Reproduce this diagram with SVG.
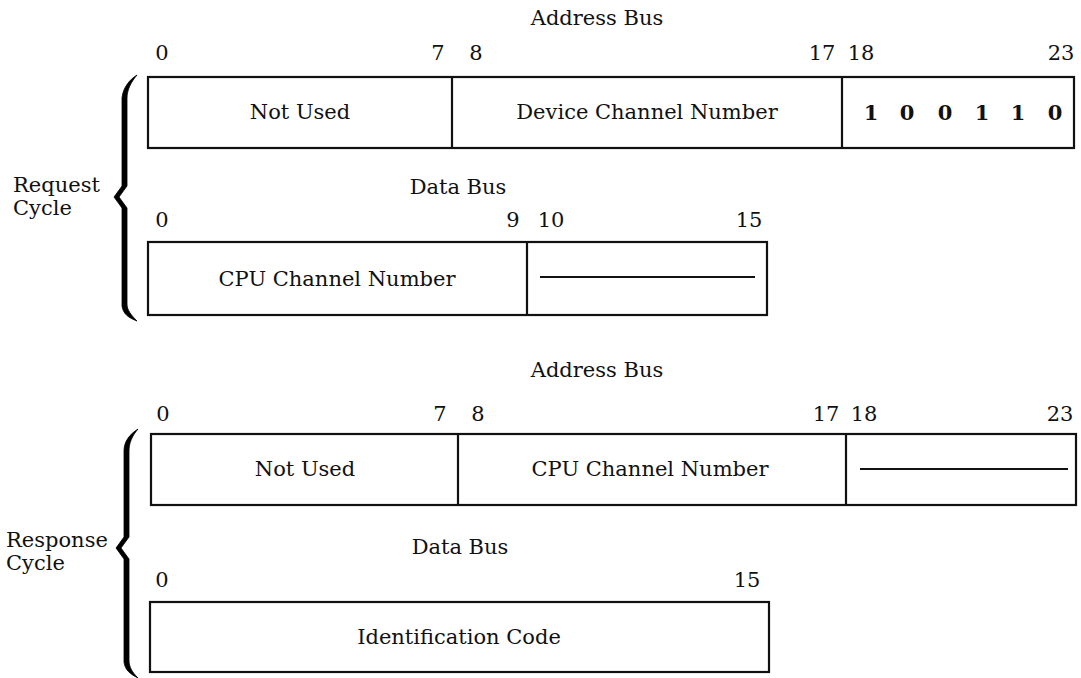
<svg xmlns="http://www.w3.org/2000/svg" width="1081" height="678" viewBox="0 0 1081 678">
<style>
  text { font-family: "DejaVu Serif", "Liberation Serif", serif; font-size: 21px; fill: #111; }
  .m { text-anchor: middle; }
  .bit { font-weight: bold; text-anchor: middle; }
  .box { fill: #fff; stroke: #111; stroke-width: 2.2; }
  .div { stroke: #111; stroke-width: 2.2; }
  .brace { fill: #000; stroke: #000; stroke-width: 0.8; stroke-linejoin: miter; }
</style>
<rect width="1081" height="678" fill="#fff"/>

<g id="request-brace">
  <path class="brace" d="M137,75 C129,80 123,88 122,98 L122,186 L114,197 L122,208 L122,306 C123,314 129,318 137,321 C131,315 127,310 127,304 L127,208 L119,197 L127,186 L127,98 C127,90 131,82 137,75 Z"/>
  <text x="13" y="192">Request</text>
  <text x="13" y="215">Cycle</text>
</g>

<g id="req-address">
  <text class="m" x="597" y="25">Address Bus</text>
  <text class="m" x="162" y="60">0</text>
  <text class="m" x="438" y="60">7</text>
  <text class="m" x="476" y="60">8</text>
  <text class="m" x="822" y="60">17</text>
  <text class="m" x="861" y="60">18</text>
  <text class="m" x="1061" y="60">23</text>
  <rect class="box" x="148" y="77" width="926" height="71"/>
  <line class="div" x1="452" y1="77" x2="452" y2="148"/>
  <line class="div" x1="842" y1="77" x2="842" y2="148"/>
  <text class="m" x="300" y="119">Not Used</text>
  <text class="m" x="647" y="119">Device Channel Number</text>
  <text class="bit" x="871" y="120">1</text>
  <text class="bit" x="907" y="120">0</text>
  <text class="bit" x="945" y="120">0</text>
  <text class="bit" x="982" y="120">1</text>
  <text class="bit" x="1018" y="120">1</text>
  <text class="bit" x="1055" y="120">0</text>
</g>

<g id="req-data">
  <text class="m" x="458" y="194">Data Bus</text>
  <text class="m" x="162" y="227">0</text>
  <text class="m" x="513" y="227">9</text>
  <text class="m" x="551" y="227">10</text>
  <text class="m" x="749" y="227">15</text>
  <rect class="box" x="148" y="242" width="619" height="73"/>
  <line class="div" x1="527" y1="242" x2="527" y2="315"/>
  <text class="m" x="337" y="286">CPU Channel Number</text>
  <line class="div" x1="540" y1="277" x2="755" y2="277"/>
</g>

<g id="response-brace">
  <path class="brace" d="M138,429 C130,434 124,441 124,451 L124,537 L116,548 L124,559 L124,662 C125,670 130,674 138,678 C132,672 129,667 129,660 L129,559 L121,548 L129,537 L129,451 C129,443 132,436 138,429 Z"/>
  <text x="6" y="547">Response</text>
  <text x="6" y="570">Cycle</text>
</g>

<g id="resp-address">
  <text class="m" x="597" y="377">Address Bus</text>
  <text class="m" x="163" y="421">0</text>
  <text class="m" x="440" y="421">7</text>
  <text class="m" x="478" y="421">8</text>
  <text class="m" x="826" y="421">17</text>
  <text class="m" x="864" y="421">18</text>
  <text class="m" x="1060" y="421">23</text>
  <rect class="box" x="151" y="434" width="925" height="71"/>
  <line class="div" x1="458" y1="434" x2="458" y2="505"/>
  <line class="div" x1="846" y1="434" x2="846" y2="505"/>
  <text class="m" x="305" y="476">Not Used</text>
  <text class="m" x="650" y="476">CPU Channel Number</text>
  <line class="div" x1="860" y1="469" x2="1068" y2="469"/>
</g>

<g id="resp-data">
  <text class="m" x="460" y="554">Data Bus</text>
  <text class="m" x="162" y="587">0</text>
  <text class="m" x="747" y="587">15</text>
  <rect class="box" x="150" y="602" width="619" height="70"/>
  <text class="m" x="459" y="644">Identification Code</text>
</g>

<g id="connectors"></g>
</svg>
